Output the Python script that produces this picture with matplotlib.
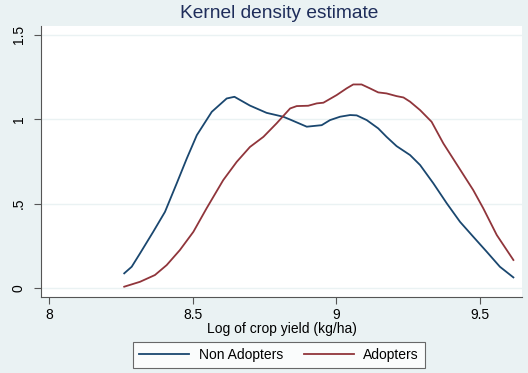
import matplotlib
matplotlib.use("Agg")
import matplotlib.pyplot as plt

plt.rcParams['font.family'] = ['Liberation Sans', 'DejaVu Sans']

non_x = [8.261, 8.287, 8.316, 8.362, 8.403, 8.444, 8.479, 8.514, 8.566, 8.618, 8.645,
         8.699, 8.757, 8.815, 8.838, 8.897, 8.949, 8.978, 9.013, 9.048, 9.071, 9.106,
         9.146, 9.175, 9.210, 9.257, 9.292, 9.338, 9.385, 9.431, 9.477, 9.524, 9.570, 9.617]
non_y = [0.087, 0.126, 0.205, 0.333, 0.451, 0.620, 0.767, 0.905, 1.043, 1.122, 1.132,
         1.080, 1.037, 1.014, 0.998, 0.955, 0.964, 0.994, 1.014, 1.024, 1.022, 0.994,
         0.945, 0.895, 0.840, 0.787, 0.728, 0.620, 0.501, 0.392, 0.304, 0.215, 0.126, 0.063]

ad_x = [8.261, 8.316, 8.368, 8.409, 8.455, 8.502, 8.548, 8.606, 8.653, 8.699, 8.746,
        8.792, 8.839, 8.862, 8.902, 8.932, 8.955, 9.001, 9.036, 9.059, 9.088, 9.117,
        9.146, 9.175, 9.210, 9.234, 9.257, 9.292, 9.332, 9.373, 9.425, 9.477, 9.512,
        9.559, 9.617]
ad_y = [0.008, 0.037, 0.077, 0.136, 0.225, 0.333, 0.472, 0.639, 0.747, 0.835, 0.895,
        0.975, 1.063, 1.077, 1.079, 1.093, 1.097, 1.142, 1.182, 1.205, 1.205, 1.182,
        1.158, 1.152, 1.136, 1.128, 1.103, 1.053, 0.984, 0.856, 0.718, 0.580, 0.472,
        0.314, 0.166]

xticks = [8, 8.5, 9, 9.5]
xtick_labels = ["8", "8.5", "9", "9.5"]
yticks = [0, 0.5, 1, 1.5]
ytick_labels = ["0", ".5", "1", "1.5"]

bg = '#EAF2F3'
blue = '#1A476F'
red = '#90353B'

W, H = 528, 373
fig = plt.figure(figsize=(W/100, H/100), dpi=100, facecolor=bg)
ax = fig.add_axes([41/W, 1-297/H, (522-41)/W, (297-26)/H])
ax.set_facecolor('white')

l1, = ax.plot(non_x, non_y, color=blue, lw=1.3, label='Non Adopters')
l2, = ax.plot(ad_x, ad_y, color=red, lw=1.3, label='Adopters')

ax.set_xlim(7.971, 9.647)
ax.set_ylim(-0.053, 1.551)
ax.set_xticks(xticks)
ax.set_xticklabels(xtick_labels, fontsize=10)
ax.set_yticks(yticks)
ax.set_yticklabels(ytick_labels, fontsize=10, rotation=90, va='center')
ax.grid(axis='y', color=bg, lw=1.0)
ax.set_axisbelow(True)
for s in ['top', 'right']:
    ax.spines[s].set_visible(False)
for s in ['left', 'bottom']:
    ax.spines[s].set_color('#555555')
    ax.spines[s].set_linewidth(0.8)
ax.tick_params(axis='both', length=5, width=0.8, color='#555555', labelcolor='black')
ax.tick_params(axis='x', pad=3)
ax.tick_params(axis='y', pad=6)

ax.set_xlabel('Log of crop yield (kg/ha)', fontsize=10, labelpad=0)
fig.text(279.5/W, 1-13/H, 'Kernel density estimate', ha='center', va='center',
         fontsize=13.8, color='#1E2D5A')

leg = fig.legend(handles=[l1, l2], loc='center', bbox_to_anchor=(279/W, 1-355/H),
                 ncol=2, frameon=True, fancybox=False, fontsize=10,
                 handlelength=3.6, columnspacing=1.5, handletextpad=0.7,
                 borderpad=0.45, borderaxespad=0, edgecolor='#444444')
leg.get_frame().set_linewidth(0.8)
leg.get_frame().set_facecolor('white')

fig.savefig('out.png', dpi=100, facecolor=bg)
